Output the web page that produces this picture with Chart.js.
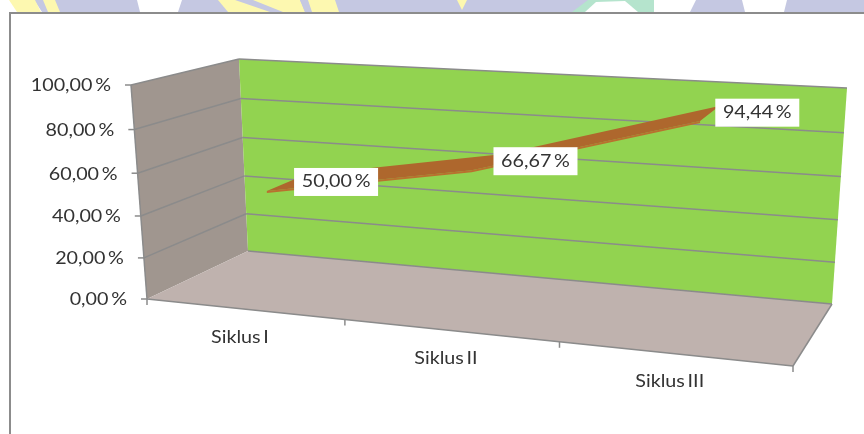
<!DOCTYPE html>
<html lang="en">
<head>
    <meta charset="UTF-8">
    <title>Siklus</title>
    <style>
        body { margin: 0; background: #fff; overflow: hidden; }
        canvas { display: block; }
    </style>
    <script src="https://cdn.jsdelivr.net/npm/chart.js"></script>
</head>
<body>
    <canvas id="chart" width="864" height="434"></canvas>
    <script>
        const categories = ['Siklus I', 'Siklus II', 'Siklus III'];
        const percentValues = [50.00, 66.67, 94.44];
        const tickValues = [0, 20, 40, 60, 80, 100];

        const FONT = 'Lato, sans-serif';
        const TEXT = '#333';
        const LINE = '#8b8b8b';

        const fmt = v => v.toFixed(2).replace('.', ',') + ' %';

        // quad corners of the box faces: bottom-left, bottom-right, top-right, top-left
        const backFace = [[248, 251], [832, 304], [847, 88], [239, 59]];
        const frontFace = [[147, 299], [793, 366], [813, 126], [131, 85]];

        // unit square -> quad, keeps the perspective foreshortening
        function homography(q) {
            const [[x0, y0], [x1, y1], [x2, y2], [x3, y3]] = q;
            const dx1 = x1 - x2, dx2 = x3 - x2, sx = x0 - x1 + x2 - x3;
            const dy1 = y1 - y2, dy2 = y3 - y2, sy = y0 - y1 + y2 - y3;
            const d = dx1 * dy2 - dx2 * dy1;
            const g = (sx * dy2 - dx2 * sy) / d;
            const h = (dx1 * sy - sx * dy1) / d;
            return (u, v) => {
                const w = g * u + h * v + 1;
                return [
                    ((x1 - x0 + g * x1) * u + (x3 - x0 + h * x3) * v + x0) / w,
                    ((y1 - y0 + g * y1) * u + (y3 - y0 + h * y3) * v + y0) / w
                ];
            };
        }
        const onBack = homography(backFace);
        const onFront = homography(frontFace);

        function project(u, v, depth) {
            const f = onFront(u, v), b = onBack(u, v);
            return [f[0] + (b[0] - f[0]) * depth, f[1] + (b[1] - f[1]) * depth];
        }

        function poly(ctx, pts, fill) {
            ctx.beginPath();
            pts.forEach((p, i) => i ? ctx.lineTo(p[0], p[1]) : ctx.moveTo(p[0], p[1]));
            ctx.closePath();
            ctx.fillStyle = fill;
            ctx.fill();
        }

        function seg(ctx, a, b, width) {
            ctx.beginPath();
            ctx.moveTo(a[0], a[1]);
            ctx.lineTo(b[0], b[1]);
            ctx.strokeStyle = LINE;
            ctx.lineWidth = width || 1.5;
            ctx.stroke();
        }

        function text(ctx, str, x, y, align, size) {
            ctx.save();
            ctx.translate(x, y);
            ctx.scale(1.16, 1);
            ctx.font = size + 'px ' + FONT;
            ctx.wordSpacing = '-2px';
            ctx.fillStyle = TEXT;
            ctx.textAlign = align;
            ctx.textBaseline = 'middle';
            ctx.fillText(str, 0, 0);
            ctx.restore();
        }

        // faded watermark behind the chart, only its lower edge shows above the frame
        function drawStrip(ctx) {
            const lav = '#c5c8e2', yel = '#fdf8b0', mint = '#b5e4cd', white = '#fff';
            poly(ctx, [[34, 0], [864, 0], [864, 12], [42, 12]], lav);
            poly(ctx, [[9, 0], [35, 0], [41, 12], [17, 12]], yel);
            poly(ctx, [[43, 0], [55, 0], [60, 12], [48, 12]], yel);
            poly(ctx, [[137, 0], [182, 0], [178, 12], [140, 12]], white);
            poly(ctx, [[218, 0], [300, 0], [305, 12], [228, 12]], yel);
            poly(ctx, [[235, 0], [253, 0], [283, 12], [270, 12]], lav);
            poly(ctx, [[300, 0], [308, 0], [312, 12], [305, 12]], lav);
            poly(ctx, [[308, 0], [335, 0], [339, 12], [312, 12]], yel);
            poly(ctx, [[457, 0], [467, 0], [462, 10]], yel);
            poly(ctx, [[588, 0], [654, 0], [654, 12], [572, 12]], mint);
            poly(ctx, [[596, 2], [625, 1], [638, 12], [585, 12]], white);
            poly(ctx, [[654, 0], [696, 0], [690, 12], [654, 12]], white);
            poly(ctx, [[742, 0], [787, 0], [784, 12], [745, 12]], white);
            ctx.fillStyle = '#8c8c8c';
            ctx.fillRect(9, 12, 855, 2);
            ctx.fillRect(9, 12, 2, 422);
        }

        const box3d = {
            id: 'box3d',
            beforeDatasetsDraw(chart) {
                const ctx = chart.ctx;
                const area = chart.chartArea;
                const x = chart.scales.x;
                const y = chart.scales.y;
                const vOf = val => (area.bottom - y.getPixelForValue(val)) / area.height;

                drawStrip(ctx);

                poly(ctx, [backFace[0], backFace[3], frontFace[3], frontFace[0]], '#a0968f');
                poly(ctx, backFace, '#92d350');
                poly(ctx, [frontFace[0], frontFace[1], backFace[1], backFace[0]], '#bfb2ae');

                // gridlines run along the side wall and the back wall
                y.ticks.forEach(t => {
                    const v = vOf(t.value);
                    const a = project(0, v, 0), b = project(0, v, 1), c = project(1, v, 1);
                    seg(ctx, [a[0] - 6, a[1]], a);
                    if (t.value > 0) seg(ctx, a, b);
                    seg(ctx, b, c);
                    text(ctx, fmt(t.value), a[0] - 20, a[1] + 1, 'right', 17);
                });

                seg(ctx, frontFace[0], frontFace[3]);
                seg(ctx, frontFace[0], frontFace[1]);
                seg(ctx, frontFace[1], backFace[1]);

                // category boundaries get a tick, labels sit under the middle of each slot
                for (let i = 0; i <= categories.length; i++) {
                    const p = onFront(i / categories.length, 0);
                    seg(ctx, p, [p[0], p[1] + 6]);
                }
                categories.forEach((c, i) => {
                    const u = (x.getPixelForValue(i) - area.left) / area.width;
                    const p = onFront(u, 0);
                    text(ctx, c, p[0] - 4, p[1] + 28, 'center', 17);
                });
            },
            afterDatasetsDraw(chart) {
                const ctx = chart.ctx;
                const area = chart.chartArea;
                const pts = chart.getDatasetMeta(0).data;
                const uv = pts.map(p => [(p.x - area.left) / area.width, (area.bottom - p.y) / area.height]);

                const front = uv.map(p => project(p[0], p[1], 0.3));
                const back = uv.map(p => project(p[0], p[1], 0.7));
                const lip = front.map(p => [p[0], p[1] + 2]);

                poly(ctx, front.concat(lip.slice().reverse()), '#b9712f');
                poly(ctx, front.concat(back.slice().reverse()), '#ae672d');

                uv.forEach((p, i) => {
                    const c = project(p[0], p[1], 0.56);
                    const cx = c[0] + 44.7, cy = c[1] + 1.4;
                    ctx.fillStyle = '#fff';
                    ctx.fillRect(cx - 42, cy - 14, 84, 28);
                    text(ctx, fmt(percentValues[i]), cx, cy, 'center', 17);
                });
            }
        };

        new Chart(document.getElementById('chart'), {
            type: 'line',
            data: {
                labels: categories,
                datasets: [{
                    data: percentValues,
                    showLine: false,
                    pointRadius: 0
                }]
            },
            options: {
                responsive: false,
                animation: false,
                layout: { padding: { left: 147, right: 71, top: 59, bottom: 68 } },
                plugins: { legend: { display: false }, tooltip: { enabled: false } },
                scales: {
                    x: {
                        offset: true,
                        grid: { display: false },
                        border: { display: false },
                        ticks: { display: false }
                    },
                    y: {
                        min: 0,
                        max: 100,
                        afterBuildTicks: s => { s.ticks = tickValues.map(value => ({ value })); },
                        grid: { display: false },
                        border: { display: false },
                        ticks: { display: false }
                    }
                }
            },
            plugins: [box3d]
        });
    </script>
</body>
</html>
